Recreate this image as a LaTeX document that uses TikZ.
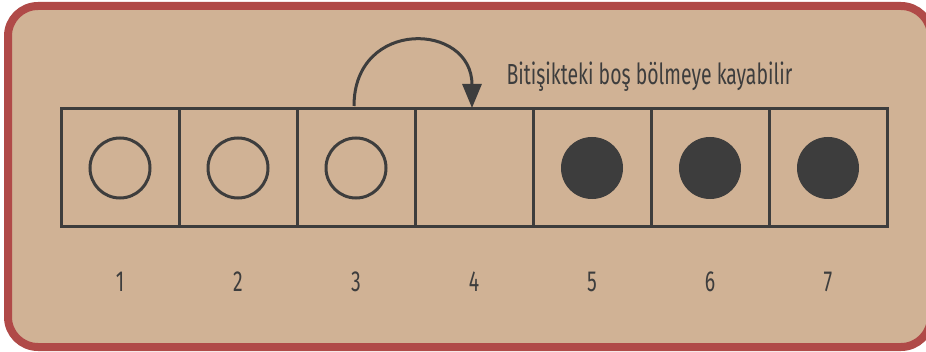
\documentclass[tikz,border=0pt]{standalone}
\usepackage{fontspec}
\newfontfamily\condfont[FakeStretch=0.67]{Fira Sans}
\usetikzlibrary{arrows.meta}
\definecolor{bgc}{RGB}{208,178,149}
\definecolor{framec}{RGB}{176,74,72}
\definecolor{inkc}{RGB}{61,61,61}
\tikzset{
  cell/.style={draw=inkc, line width=3pt, minimum width=118pt, minimum height=118pt, inner sep=0pt, outer sep=0pt},
  emptyball/.style={draw=inkc, line width=3pt, circle, minimum size=60pt, inner sep=0pt},
  fullball/.style={fill=inkc, draw=inkc, line width=1pt, circle, minimum size=61pt, inner sep=0pt},
  numlbl/.style={text=inkc, font=\condfont\fontsize{29}{31}\selectfont},
  note/.style={text=inkc, font=\condfont\fontsize{29}{31}\selectfont}
}
\begin{document}
\begin{tikzpicture}[x=1pt,y=1pt]
\useasboundingbox (0,0) rectangle (926,351);
\fill[white] (0,0) rectangle (926,351);
\draw[framec, fill=bgc, line width=8pt, rounded corners=30pt] (8,4) rectangle (931,345);
\foreach \i in {1,...,7} {
  \node[cell] (c\i) at ({61+118*(\i-1)+59},{351-168}) {};
  \node[numlbl] (n\i) at ({61+118*(\i-1)+59},{351-282}) {\i};
}
\node[emptyball] (b1) at (c1) {};
\node[emptyball] (b2) at (c2) {};
\node[emptyball] (b3) at (c3) {};
\node[fullball] (b5) at (c5) {};
\node[fullball] (b6) at (c6) {};
\node[fullball] (b7) at (c7) {};
\coordinate (s) at ([xshift=-2pt]c3.north);
\coordinate (e) at ([xshift=-2pt]c4.north);
\draw[inkc, line width=3pt, -{Triangle[width=19pt,length=24pt]}] ([yshift=3pt]s) .. controls +(0,88) and +(0,86) .. ([yshift=1pt]e);
\node[note, anchor=base west] (t) at (503,266) {Bitişikteki boş bölmeye kayabilir};
\end{tikzpicture}
\end{document}
